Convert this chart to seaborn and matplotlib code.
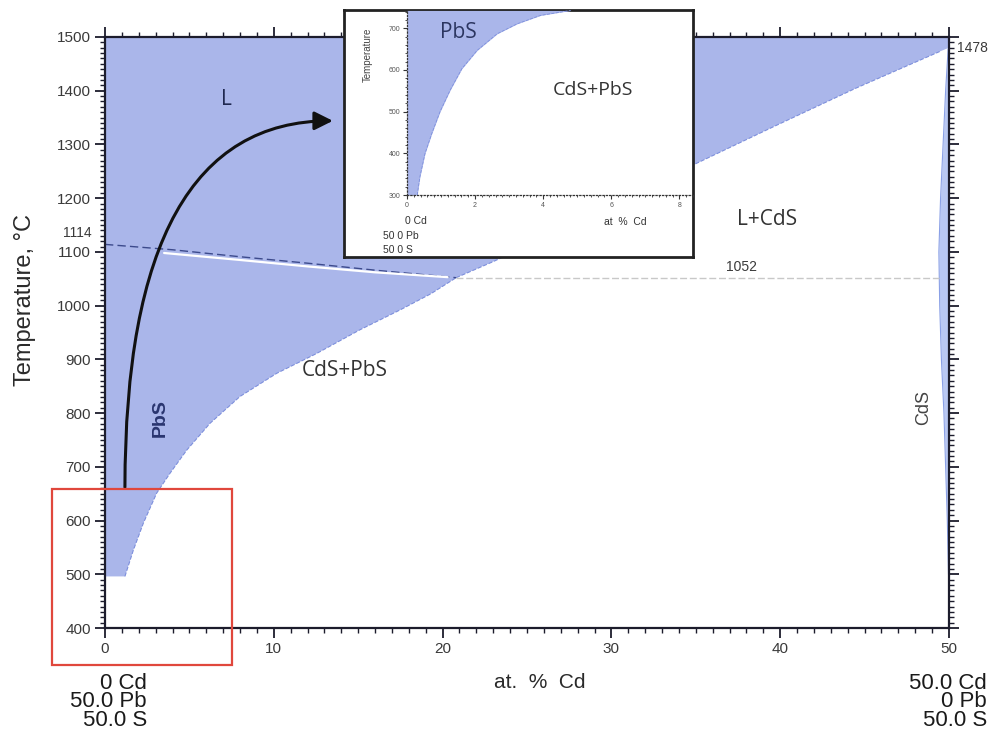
import numpy as np
import pandas as pd
import matplotlib
matplotlib.use("Agg")
import matplotlib.pyplot as plt
import matplotlib.transforms as mtransforms
from matplotlib.ticker import MultipleLocator
from matplotlib.patches import Rectangle
import seaborn as sns

# ---------------- data ----------------
# PbS solvus (boundary PbS / CdS+PbS)
solvus_x = [1.18, 1.68, 2.27, 3.06, 3.85, 4.84, 6.22, 8.0, 10.17, 12.54, 15.1, 17.48, 19.3, 20.8]
solvus_T = [496, 545, 595, 651, 688, 731, 781, 831, 874, 911, 955, 992, 1022, 1052]
pbs_bottom_T = 496
# PbS liquidus / solidus
pbs_liq_x = [0, 4, 8, 12, 16, 20.8]
pbs_liq_T = [1114, 1104, 1091, 1079, 1066, 1052]
pbs_sol_x = [3.5, 8, 12, 16, 20.3]
pbs_sol_T = [1098, 1085, 1073, 1062, 1053]
# CdS liquidus
cds_liq_x = [20.8, 23.0, 26.0, 30.0, 34.85, 39.6, 44.5, 49.45]
cds_liq_T = [1052, 1082, 1126, 1188, 1262, 1333, 1405, 1473]
# eutectic
eut_T = 1052
eut_x = [20.8, 49.4]
# CdS solid solution (narrow)
cds_ss_T = [500, 600, 700, 800, 900, 1000, 1100, 1200, 1300, 1400, 1478]
cds_ss_x = [49.97, 49.9, 49.8, 49.7, 49.55, 49.45, 49.4, 49.5, 49.65, 49.8, 49.95]
# inset: PbS solvus at low temperature
inset_T = [300, 344, 400, 448, 500, 552, 603, 647, 687, 711, 731, 743]
inset_x = [0.30, 0.38, 0.53, 0.73, 0.97, 1.27, 1.61, 2.06, 2.65, 3.24, 3.92, 4.81]

x_ticks = [0, 10, 20, 30, 40, 50]
y_ticks = [400, 500, 600, 700, 800, 900, 1000, 1100, 1200, 1300, 1400, 1500]
inset_xticks = [0, 2, 4, 6, 8]
inset_yticks = [300, 400, 500, 600, 700]

# ---------------- style ----------------
sns.set_theme(style="ticks")
plt.rcParams['font.family'] = ['Liberation Sans', 'DejaVu Sans']

BLUE = '#aab6ea'
EDGE = '#7d8fdc'
INK = '#1c1c2c'

fig = plt.figure(figsize=(9.97, 7.33), dpi=100)
ax = fig.add_axes([105/997, 1-628/733, (949-105)/997, (628-37)/733])
ax.set_xlim(0, 50)
ax.set_ylim(400, 1500)

# shaded single-phase regions (PbS + L)
poly_x = [0] + solvus_x + cds_liq_x[1:] + [50, 50, 0]
poly_T = [pbs_bottom_T] + solvus_T + cds_liq_T[1:] + [1480, 1500, 1500]
ax.fill(poly_x, poly_T, color=BLUE, lw=0, zorder=1)
# CdS solid solution
ax.fill_betweenx(cds_ss_T, cds_ss_x, 50, color='#b9c8f3', lw=0, zorder=1)

df_sol = pd.DataFrame({'x': solvus_x, 'T': solvus_T})
sns.lineplot(data=df_sol, x='x', y='T', sort=False, estimator=None, ax=ax,
             color=EDGE, lw=0.8, linestyle='--', zorder=2)
df_cl = pd.DataFrame({'x': cds_liq_x, 'T': cds_liq_T})
sns.lineplot(data=df_cl, x='x', y='T', sort=False, estimator=None, ax=ax,
             color=EDGE, lw=0.8, linestyle='--', zorder=2)
sns.lineplot(x=cds_ss_x, y=cds_ss_T, sort=False, estimator=None, ax=ax,
             color='#8aa0e6', lw=0.8, zorder=2)
sns.lineplot(x=pbs_liq_x, y=pbs_liq_T, sort=False, estimator=None, ax=ax,
             color='#3c4a8c', lw=1.0, linestyle=(0, (6, 3)), zorder=2)
sns.lineplot(x=pbs_sol_x, y=pbs_sol_T, sort=False, estimator=None, ax=ax,
             color='white', lw=1.6, zorder=2)
sns.lineplot(x=eut_x, y=[eut_T, eut_T], ax=ax, color='#c8c8c8', lw=1.0,
             linestyle=(0, (5, 2)), zorder=2)

# ticks / spines
ax.set_xticks(x_ticks)
ax.set_yticks(y_ticks)
ax.xaxis.set_minor_locator(MultipleLocator(1))
ax.yaxis.set_minor_locator(MultipleLocator(10))
ax.tick_params(which='both', direction='out', top=True, right=True,
               labeltop=False, labelright=False, color=INK)
ax.tick_params(which='major', length=7, width=1.3, labelsize=11,
               labelcolor='#3a3a3a', pad=3)
ax.tick_params(which='minor', length=3.5, width=1.0)
for s in ax.spines.values():
    s.set_visible(True)
    s.set_linewidth(1.6)
    s.set_color(INK)
ax.set_xlabel('')
ax.set_ylabel('')
ax.grid(False)

# extra labels
blend = mtransforms.blended_transform_factory(ax.transAxes, ax.transData)
ax.text(-0.016, 1135, '1114', transform=blend, ha='right', va='center',
        fontsize=10, color='#3a3a3a')
ax.text(37.7, 1072, '1052', ha='center', va='center', fontsize=10, color='#3a3a3a')
ax.text(50.5, 1480, '1478', ha='left', va='center', fontsize=10,
        color='#3a3a3a', clip_on=False)

fig.text(25/997, 1-300/733, 'Temperature, °C', rotation=90, ha='center',
         va='center', fontsize=17, color='#2a2a2a')
fig.text(540/997, 1-682/733, 'at.  %  Cd', ha='center', va='center',
         fontsize=15, color='#2a2a2a')
fig.text(147/997, 1-731/733, '0 Cd\n50.0 Pb\n50.0 S', ha='right', va='bottom',
         multialignment='right', linespacing=0.85, fontsize=16, color='#1a1a1a')
fig.text(987/997, 1-731/733, '50.0 Cd\n0 Pb\n50.0 S', ha='right', va='bottom',
         multialignment='right', linespacing=0.85, fontsize=16, color='#1a1a1a')

# region labels
ax.text(7.2, 1383, 'L', ha='center', va='center', fontsize=15,
        color='#1f2850', family=['Open Sans', 'DejaVu Sans'])
ax.text(3.3, 790, 'PbS', rotation=90, ha='center', va='center', fontsize=14,
        color='#2a3570', fontweight='bold')
ax.text(14.2, 880, 'CdS+PbS', ha='center', va='center', fontsize=15,
        color='#333333', family=['Open Sans', 'DejaVu Sans'])
ax.text(39.2, 1160, 'L+CdS', ha='center', va='center', fontsize=15,
        color='#333333', family=['Open Sans', 'DejaVu Sans'])
ax.text(48.5, 810, 'CdS', rotation=90, ha='center', va='center', fontsize=13,
        color='#444444')

# arrow
ax.annotate('', xy=(13.5, 1344), xytext=(1.18, 662),
            arrowprops=dict(arrowstyle='-|>', color='#111111', lw=2.2,
                            mutation_scale=28, shrinkA=0, shrinkB=0,
                            connectionstyle='angle3,angleA=90,angleB=0'),
            zorder=4)

# red box
fig.add_artist(Rectangle((52/997, 1-665/733), (232-52)/997, (665-489)/733,
                         transform=fig.transFigure, fill=False,
                         edgecolor='#e0473c', lw=1.6, zorder=10))

# ---------------- inset ----------------
axbox = fig.add_axes([344/997, 1-257/733, (693-344)/997, (257-10)/733], zorder=5)
axbox.set_facecolor('white')
axbox.set_xticks([])
axbox.set_yticks([])
for s in axbox.spines.values():
    s.set_visible(True)
    s.set_linewidth(2.0)
    s.set_color('#222222')

axin = fig.add_axes([407/997, 1-195/733, (693-407)/997, (195-10)/733], zorder=6)
axin.set_facecolor('none')
axin.set_xlim(0, 8.4)
axin.set_ylim(300, 744)
axin.fill_betweenx(inset_T, 0, inset_x, color=BLUE, lw=0, zorder=1)
sns.lineplot(x=inset_x, y=inset_T, sort=False, estimator=None, ax=axin,
             color=EDGE, lw=0.6, linestyle='--', zorder=2)
axin.set_xticks(inset_xticks)
axin.set_yticks(inset_yticks)
axin.xaxis.set_minor_locator(MultipleLocator(0.2))
axin.yaxis.set_minor_locator(MultipleLocator(20))
axin.tick_params(which='both', direction='out', color='#333333')
axin.tick_params(which='major', length=3, width=0.8, labelsize=5,
                 labelcolor='#555555', pad=2)
axin.tick_params(which='minor', length=1.5, width=0.6)
for k in ['top', 'right']:
    axin.spines[k].set_visible(False)
for k in ['left', 'bottom']:
    axin.spines[k].set_linewidth(0.9)
    axin.spines[k].set_color('#333333')
    axin.spines[k].set_linestyle(':')
axin.set_xlabel('')
axin.set_ylabel('')
axin.grid(False)
axin.text(1.5, 690, 'PbS', ha='center', va='center', fontsize=15,
          color='#2b3560', family=['Open Sans', 'DejaVu Sans'])
axin.text(5.47, 552, 'CdS+PbS', ha='center', va='center', fontsize=14,
          color='#333333', family=['Open Sans', 'DejaVu Sans'])

fig.text(368/997, 1-55/733, 'Temperature', rotation=90, ha='center',
         va='center', fontsize=7, color='#444444', zorder=7)
fig.text(427/997, 1-221/733, '0 Cd', ha='right', va='center', fontsize=7.5,
         color='#333333', zorder=7)
fig.text(383/997, 1-236/733, '50 0 Pb', ha='left', va='center', fontsize=7.5,
         color='#333333', zorder=7)
fig.text(383/997, 1-250/733, '50 0 S', ha='left', va='center', fontsize=7.5,
         color='#333333', zorder=7)
fig.text(625/997, 1-222/733, 'at  %  Cd', ha='center', va='center',
         fontsize=7.5, color='#333333', zorder=7)

fig.savefig('out.png', dpi=100)
